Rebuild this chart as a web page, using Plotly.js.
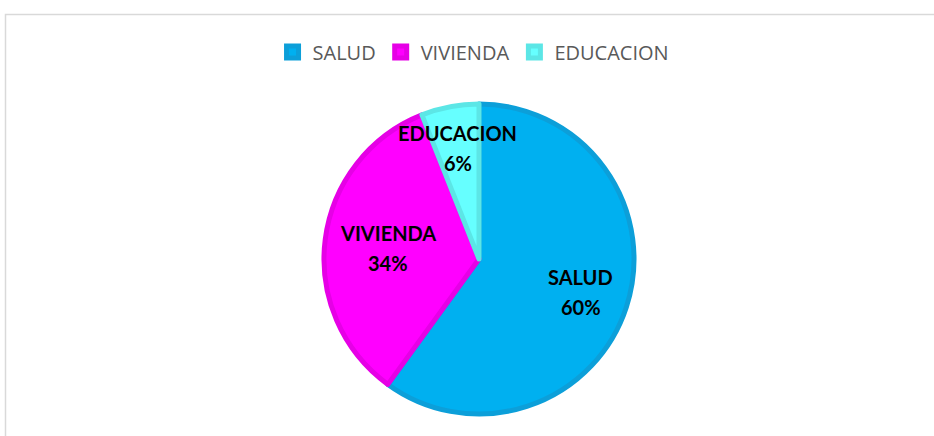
<!DOCTYPE html>
<html>
<head>
<meta charset="utf-8">
<script src="https://cdn.plot.ly/plotly-3.0.1.min.js"></script>
<style>
html,body{margin:0;padding:0;background:#fff;}
#chart{width:934px;height:436px;}
</style>
</head>
<body>
<div id="chart"></div>
<script>
// ---- data ----
const categories = ["SALUD", "VIVIENDA", "EDUCACION"];
const values = [60, 34, 6];
const fillColors = ["#00B0F0", "#FF00FF", "#66FFFF"];
const edgeColors = ["#0C9FD9", "#E600E6", "#5CE6E6"];
const labelRadius = [0.69, 0.59, 0.73]; // fraction of pie radius for label placement

// ---- geometry ----
const W = 934, H = 436;
const cx = 479, cy = 259, R = 155;
const domX = [(cx - R) / W, (cx + R) / W];
const domY = [(H - cy - R) / H, (H - cy + R) / H];

const total = values.reduce((a, b) => a + b, 0);
const annotations = [];
let cum = 0;
values.forEach((v, i) => {
  const mid = (cum + v / 2) / total * 2 * Math.PI;
  cum += v;
  const r = labelRadius[i] * R;
  const sx = cx + r * Math.sin(mid);
  const sy = cy - r * Math.cos(mid);
  const pct = Math.round(v / total * 100) + "%";
  const common = {
    xref: "paper", yref: "paper", x: sx / W, y: 1 - sy / H,
    showarrow: false, xanchor: "center", yanchor: "middle",
    font: {family: "Lato, 'Open Sans', sans-serif", size: 20, color: "#000", weight: "bold"}
  };
  annotations.push(Object.assign({}, common, {text: "<b>" + categories[i] + "</b>", yshift: 15}));
  annotations.push(Object.assign({}, common, {text: "<b>" + pct + "</b>", yshift: -15}));
});

const trace = {
  type: "pie",
  labels: categories,
  values: values,
  sort: false,
  direction: "clockwise",
  rotation: 0,
  textinfo: "none",
  hoverinfo: "none",
  marker: {colors: fillColors, line: {color: edgeColors, width: 5}},
  domain: {x: domX, y: domY}
};

const layout = {
  width: W, height: H,
  margin: {l: 0, r: 0, t: 0, b: 0},
  paper_bgcolor: "#fff",
  showlegend: true,
  legend: {
    orientation: "h", x: 0.507, xanchor: "center", y: 1 - 52 / H, yanchor: "middle",
    font: {family: "'Open Sans', sans-serif", size: 20, color: "#595959"},
    itemwidth: 30, traceorder: "normal"
  },
  annotations: annotations,
  shapes: [{
    type: "rect", xref: "paper", yref: "paper",
    x0: 5.5 / W, x1: 1.2, y0: -0.2, y1: 1 - 14.5 / H,
    line: {color: "#D9D9D9", width: 1.5}, fillcolor: "rgba(0,0,0,0)"
  }]
};

Plotly.newPlot("chart", [trace], layout, {displayModeBar: false, staticPlot: true});
</script>
</body>
</html>
